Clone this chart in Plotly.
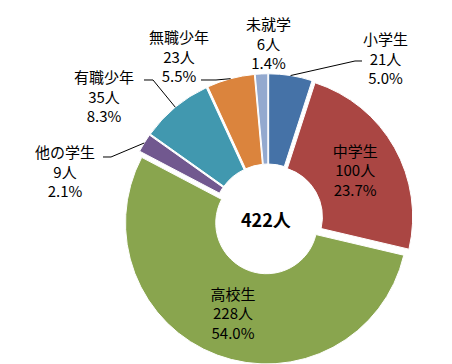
import math
import plotly.graph_objects as go

# ---- data ----
categories = ["小学生", "中学生", "高校生", "他の学生", "有職少年", "無職少年", "未就学"]
counts = [21, 100, 228, 9, 35, 23, 6]
percents = ["5.0%", "23.7%", "54.0%", "2.1%", "8.3%", "5.5%", "1.4%"]
colors = ["#4572A7", "#AA4643", "#89A54E", "#71588F", "#4198AF", "#DB843D", "#93A9CF"]
inside_labels = ["中学生", "高校生"]
total_label = "422人"

# ---- layout geometry (pixels) ----
W, H = 452, 364
CX, CY = 260, 211      # pie centre
R = 141                # outer radius of slices
PULL = 0.03
HOLE = 0.36
FONT = "Noto Sans CJK JP, Noto Sans, sans-serif"

RT = R * (1 + PULL)
dom_x = [(CX - RT) / W, (CX + RT) / W]
dom_y = [(H - CY - RT) / H, (H - CY + RT) / H]


def px(x):
    return x / W


def py(y):
    return 1 - y / H


textpos = ["inside" if c in inside_labels else "none" for c in categories]

fig = go.Figure(go.Pie(
    labels=categories,
    values=counts,
    sort=False,
    direction="clockwise",
    rotation=0,
    hole=HOLE,
    pull=[PULL] * len(counts),
    marker=dict(colors=colors, line=dict(color="white", width=1)),
    textposition=textpos,
    texttemplate="%{label}<br>%{value}人<br>%{percent:.1%}",
    insidetextorientation="horizontal",
    insidetextfont=dict(family=FONT, size=15, color="black"),
    domain=dict(x=dom_x, y=dom_y),
    showlegend=False,
))

# outside labels: text centre x, middle-line y, leader path start points
outside = {
    "小学生": dict(x=377, y=50, path=[(354, 53), (347, 53)]),
    "未就学": dict(x=260, y=35, path=None),
    "無職少年": dict(x=171, y=48, path=[(193, 72), (208, 72)]),
    "有職少年": dict(x=96, y=88, path=[(136, 72), (145, 72)]),
    "他の学生": dict(x=57, y=163, path=[(95, 149), (103, 149)]),
}

annotations = []
shapes = []
cum = 0
tot = sum(counts)
for cat, val, pct in zip(categories, counts, percents):
    mid = (cum + val / 2) / tot * 2 * math.pi
    cum += val
    if cat not in outside:
        continue
    o = outside[cat]
    annotations.append(dict(
        x=px(o["x"]), y=py(o["y"]), xref="paper", yref="paper",
        xanchor="center", yanchor="middle", showarrow=False,
        text=f"{cat}<br>{val}人<br>{pct}",
        font=dict(family=FONT, size=15, color="black"),
    ))
    if o["path"]:
        tip = (CX + RT * math.sin(mid), CY - RT * math.cos(mid))
        pts = o["path"] + [tip]
        d = "M " + " L ".join(f"{px(a):.5f},{py(b):.5f}" for a, b in pts)
        shapes.append(dict(type="path", path=d, xref="paper", yref="paper",
                           line=dict(color="black", width=1)))

annotations.append(dict(
    x=px(CX - 2), y=py(CY), xref="paper", yref="paper",
    xanchor="center", yanchor="middle", showarrow=False,
    text=f"<b>{total_label}</b>",
    font=dict(family=FONT, size=18, color="black"),
))

fig.update_layout(
    width=W, height=H,
    margin=dict(l=0, r=0, t=0, b=0),
    paper_bgcolor="white",
    plot_bgcolor="white",
    annotations=annotations,
    shapes=shapes,
)

fig.write_html("out.html")
